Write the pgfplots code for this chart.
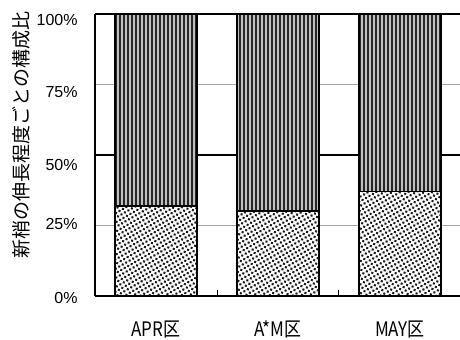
\documentclass[border=0pt]{standalone}
\usepackage{pgfplots}
\pgfplotsset{compat=1.18}
\usepackage{fontspec}
\setmainfont{Liberation Sans}
\newfontfamily\jp{Noto Sans CJK JP}
\usetikzlibrary{patterns.meta}
\begin{document}
\begin{tikzpicture}
\useasboundingbox (0,0) rectangle (230pt,170pt);
\begin{axis}[
  at={(47.5pt,22pt)}, anchor=south west,
  scale only axis, width=183pt, height=141pt,
  xmin=-0.5, xmax=2.5, ymin=0, ymax=100,
  enlargelimits=false, clip=false,
  ybar stacked, bar width=41pt,
  axis x line*=bottom, axis y line*=left,
  axis line style={-, line width=1pt, black},
  xtick={0,1,2},
  xticklabels={{\jp\scalebox{0.85}[1]{APR区}},{\jp\scalebox{0.85}[1]{A*M区}},{\jp\scalebox{0.85}[1]{MAY区}}},
  major tick length=0pt,
  minor xtick={0.5,1.5}, minor tick length=3pt, tick align=inside,
  minor tick style={black, line width=0.5pt},
  xticklabel style={anchor=base, yshift=-20.5pt, font=\fontsize{10pt}{12pt}\selectfont, inner sep=0pt},
  ytick={0,25,50,75,100},
  yticklabels={{\raisebox{-1pt}{0\%}},{\raisebox{0.75pt}{25\%}},{\raisebox{-4.75pt}{50\%}},{\raisebox{-3.5pt}{75\%}},{\raisebox{-3pt}{100\%}}},
  yticklabel style={anchor=base east, inner sep=0pt, xshift=-8.5pt, yshift=-2.8pt, font=\fontsize{8pt}{9pt}\selectfont},
  ymajorgrids, major grid style={gray!70, line width=0.5pt},
  extra y ticks={50,100}, extra y tick labels={},
  extra y tick style={major grid style={black, line width=0.55pt}},
  ylabel={\jp 新梢の伸長程度ごとの構成比},
  ylabel style={at={(axis description cs:-0.2022,0.571)}, anchor=center, font=\fontsize{9.5pt}{11pt}\selectfont},
]
\addplot[draw=black, line width=0.8pt, fill=white,
  postaction={pattern={Dots[distance=2pt, radius=0.72pt, angle=30]}, pattern color=black!90}]
  coordinates {(0,32.0) (1,30.1) (2,37.1)};
\addplot[draw=black, line width=0.8pt, fill=gray!50,
  postaction={pattern={Lines[angle=90, distance=2pt, line width=0.75pt]}, pattern color=black!85}]
  coordinates {(0,68.0) (1,69.9) (2,62.9)};
\end{axis}
\end{tikzpicture}
\end{document}
